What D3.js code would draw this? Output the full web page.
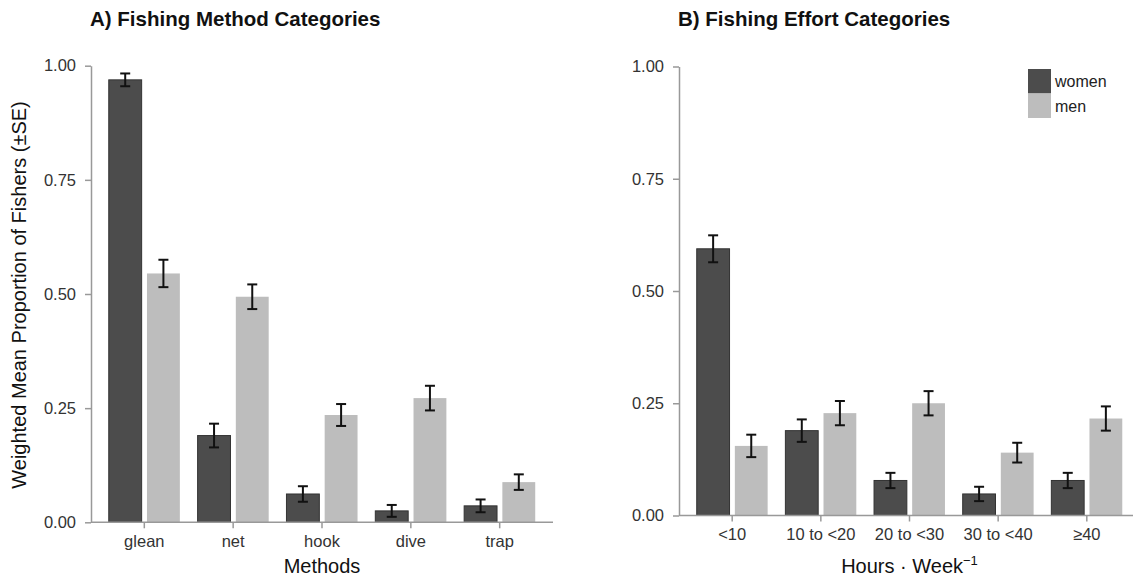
<!DOCTYPE html>
<html>
<head>
<meta charset="utf-8">
<script src="https://cdn.jsdelivr.net/npm/d3@7"></script>
<style>
  body { margin: 0; background: #fff; }
  svg { font-family: "Liberation Sans", Arial, sans-serif; }
  .axis path, .axis line { stroke: #999; stroke-width: 1.5px; }
  .axis text { fill: #333; font-size: 16.5px; }
</style>
</head>
<body>
<div id="chart"></div>
<script>
// A) fishing method
var methods = ['glean', 'net', 'hook', 'dive', 'trap'];
var methodWomen = [0.969, 0.190, 0.062, 0.025, 0.036];
var methodWomenSE = [0.014, 0.026, 0.017, 0.013, 0.014];
var methodMen = [0.545, 0.494, 0.235, 0.272, 0.088];
var methodMenSE = [0.030, 0.027, 0.024, 0.027, 0.017];

// B) fishing effort
var effort = ['<10', '10 to <20', '20 to <30', '30 to <40', '\u226540'];
var effortWomen = [0.594, 0.189, 0.078, 0.048, 0.078];
var effortWomenSE = [0.030, 0.025, 0.017, 0.016, 0.017];
var effortMen = [0.155, 0.228, 0.250, 0.140, 0.216];
var effortMenSE = [0.025, 0.027, 0.027, 0.022, 0.027];

var yTicks = [0, 0.25, 0.5, 0.75, 1];
var sexes = ['women', 'men'];
var colors = { women: '#4c4c4c', men: '#bdbdbd' };

var svgWidth = 1133;
var svgHeight = 577;

var svg = d3.select('#chart').append('svg')
    .attr('width', svgWidth)
    .attr('height', svgHeight);

function drawPanel(opts) {
    var x = d3.scaleBand()
        .domain(opts.cats)
        .range([opts.left, opts.right])
        .paddingInner(0)
        .paddingOuter(0.1);
    var y = d3.scaleLinear()
        .domain([0, 1])
        .range([opts.bottom, opts.top]);
    var step = x.step();
    var barW = 0.37 * step;
    var offset = 0.215 * step;

    var g = svg.append('g');

    // rows: one per category and sex
    var rows = [];
    opts.cats.forEach(function(c, i) {
        rows.push({ cat: c, sex: 'women', v: opts.women[i], se: opts.womenSE[i] });
        rows.push({ cat: c, sex: 'men', v: opts.men[i], se: opts.menSE[i] });
    });
    var cx = function(d) {
        return x(d.cat) + x.bandwidth() / 2 + (d.sex === 'women' ? -offset : offset);
    };

    g.selectAll('.bar')
        .data(rows)
        .enter()
        .append('rect')
        .attr('x', d => cx(d) - barW / 2)
        .attr('y', d => y(d.v))
        .attr('width', barW)
        .attr('height', d => y(0) - y(d.v))
        .attr('fill', d => colors[d.sex])
        .attr('stroke', d => d.sex === 'women' ? '#333' : 'none')
        .attr('stroke-width', 1);

    // error bars
    var eb = g.selectAll('.err')
        .data(rows)
        .enter()
        .append('g')
        .attr('stroke', '#111')
        .attr('stroke-width', 2);
    eb.append('line')
        .attr('x1', cx).attr('x2', cx)
        .attr('y1', d => y(d.v + d.se))
        .attr('y2', d => y(d.v - d.se));
    eb.append('line')
        .attr('x1', d => cx(d) - 5).attr('x2', d => cx(d) + 5)
        .attr('y1', d => y(d.v + d.se)).attr('y2', d => y(d.v + d.se));
    eb.append('line')
        .attr('x1', d => cx(d) - 5).attr('x2', d => cx(d) + 5)
        .attr('y1', d => y(d.v - d.se)).attr('y2', d => y(d.v - d.se));

    // axes
    g.append('g')
        .attr('class', 'axis')
        .attr('transform', `translate(${opts.left}, 0)`)
        .call(d3.axisLeft(y).tickValues(yTicks).tickFormat(d3.format('.2f'))
            .tickSize(6).tickSizeOuter(0).tickPadding(9));
    var xAxis = g.append('g')
        .attr('class', 'axis')
        .attr('transform', `translate(0, ${opts.bottom})`)
        .call(d3.axisBottom(x).tickSize(6).tickSizeOuter(0).tickPadding(7));
    xAxis.select('.domain').attr('d', `M${opts.left},0H${opts.right}`);

    // title
    g.append('text')
        .attr('x', opts.left - 1)
        .attr('y', 26)
        .attr('font-size', '20.5px')
        .attr('font-weight', 'bold')
        .attr('fill', '#111')
        .text(opts.title);

    var xTitle = g.append('text')
        .attr('x', (opts.left + opts.right) / 2)
        .attr('y', 573)
        .attr('text-anchor', 'middle')
        .attr('font-size', '20px')
        .attr('fill', '#111');
    return { g: g, x: x, y: y, xTitle: xTitle };
}

var panelA = drawPanel({
    cats: methods, women: methodWomen, womenSE: methodWomenSE,
    men: methodMen, menSE: methodMenSE,
    left: 91, right: 553, top: 65.7, bottom: 522.3,
    title: 'A) Fishing Method Categories'
});
panelA.xTitle.text('Methods');

var panelB = drawPanel({
    cats: effort, women: effortWomen, womenSE: effortWomenSE,
    men: effortMen, menSE: effortMenSE,
    left: 679, right: 1140, top: 66.5, bottom: 515.5,
    title: 'B) Fishing Effort Categories'
});
panelB.xTitle.text('Hours \u00b7 Week');
panelB.xTitle.append('tspan')
    .attr('dy', -8)
    .attr('font-size', '13px')
    .text('\u22121');

// y axis title
svg.append('text')
    .attr('transform', 'translate(26, 295) rotate(-90)')
    .attr('text-anchor', 'middle')
    .attr('font-size', '20px')
    .attr('fill', '#111')
    .text('Weighted Mean Proportion of Fishers (\u00b1SE)');

// legend
var legend = svg.append('g').attr('transform', 'translate(1028, 69)');
sexes.forEach(function(s, i) {
    legend.append('rect')
        .attr('x', 0)
        .attr('y', i * 24.5)
        .attr('width', 23)
        .attr('height', 24.5)
        .attr('fill', colors[s]);
    legend.append('text')
        .attr('x', 27)
        .attr('y', i * 24.5 + 12.5)
        .attr('dy', '0.35em')
        .attr('font-size', '16px')
        .attr('fill', '#222')
        .text(s);
});
</script>
</body>
</html>
